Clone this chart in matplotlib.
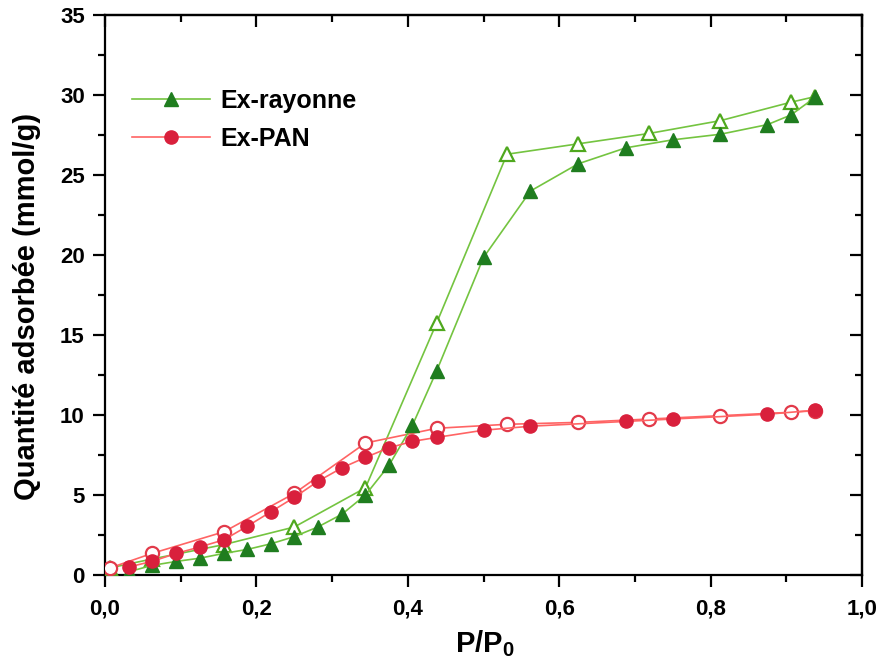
import numpy as np
import matplotlib
matplotlib.use("Agg")
import matplotlib.pyplot as plt
from matplotlib.ticker import MultipleLocator, FuncFormatter

plt.rcParams['font.family'] = ['Liberation Sans', 'DejaVu Sans']
plt.rcParams['mathtext.fontset'] = 'custom'
plt.rcParams['mathtext.bf'] = 'Liberation Sans:bold'
plt.rcParams['mathtext.rm'] = 'Liberation Sans:bold'

# Ex-rayonne, adsorption (pleins) et désorption (vides)
ray_ads_x = [0.031, 0.062, 0.094, 0.125, 0.157, 0.188, 0.219, 0.25, 0.281, 0.313, 0.344,
             0.375, 0.406, 0.438, 0.5, 0.562, 0.625, 0.688, 0.75, 0.813, 0.875, 0.906, 0.938]
ray_ads_y = [0.2, 0.6, 0.85, 1.05, 1.35, 1.6, 1.95, 2.4, 3.0, 3.8, 5.0,
             6.85, 9.35, 12.75, 19.85, 24.0, 25.7, 26.7, 27.2, 27.55, 28.15, 28.75, 29.85]
ray_des_x = [0.938, 0.906, 0.813, 0.719, 0.625, 0.531, 0.438, 0.344, 0.25, 0.157, 0.062, 0.007]
ray_des_y = [29.9, 29.55, 28.4, 27.6, 26.95, 26.3, 15.75, 5.45, 3.0, 1.9, 1.0, 0.45]

# Ex-PAN
pan_ads_x = [0.031, 0.062, 0.094, 0.125, 0.157, 0.188, 0.219, 0.25, 0.281, 0.313, 0.344,
             0.375, 0.406, 0.438, 0.5, 0.562, 0.688, 0.75, 0.875, 0.938]
pan_ads_y = [0.5, 0.85, 1.35, 1.75, 2.2, 3.05, 3.95, 4.85, 5.85, 6.7, 7.35,
             7.95, 8.35, 8.6, 9.05, 9.3, 9.6, 9.75, 10.05, 10.3]
pan_des_x = [0.938, 0.906, 0.813, 0.719, 0.625, 0.531, 0.438, 0.344, 0.25, 0.157, 0.062, 0.007]
pan_des_y = [10.27, 10.17, 9.96, 9.75, 9.54, 9.42, 9.17, 8.25, 5.1, 2.7, 1.35, 0.45]

green_line = '#74c440'
green_dark = '#1f7d1f'
red_line = '#ff6464'
red_fill = '#d9203c'

fig = plt.figure(figsize=(8.79, 6.68), dpi=100)
ax = fig.add_axes([0.1195, 0.1392, 0.8612, 0.8383])

ax.plot(ray_des_x, ray_des_y, color=green_line, lw=1.2, marker='^', ms=10.5,
        mfc='white', mec='#4fa81e', mew=1.6, zorder=3)
ax.plot(ray_ads_x, ray_ads_y, color=green_line, lw=1.2, marker='^', ms=10.5,
        mfc=green_dark, mec=green_dark, label='Ex-rayonne', zorder=4)
ax.plot(pan_des_x, pan_des_y, color=red_line, lw=1.2, marker='o', ms=9.5,
        mfc='white', mec='#e23a4a', mew=1.6, zorder=3)
ax.plot(pan_ads_x, pan_ads_y, color=red_line, lw=1.2, marker='o', ms=9.5,
        mfc=red_fill, mec=red_fill, label='Ex-PAN', zorder=4)

ax.set_xlim(0, 1.0)
ax.set_ylim(0, 35)
ax.xaxis.set_major_locator(MultipleLocator(0.2))
ax.xaxis.set_minor_locator(MultipleLocator(0.1))
ax.yaxis.set_major_locator(MultipleLocator(5))
ax.yaxis.set_minor_locator(MultipleLocator(2.5))
ax.xaxis.set_major_formatter(FuncFormatter(lambda v, p: f'{v:.1f}'.replace('.', ',')))
ax.yaxis.set_major_formatter(FuncFormatter(lambda v, p: f'{v:.0f}'))

for s in ax.spines.values():
    s.set_linewidth(1.6)
ax.tick_params(which='both', width=1.6, labelsize=16)
ax.tick_params(which='major', length=8.6)
ax.tick_params(which='minor', length=4.7)
ax.tick_params(axis='x', which='both', direction='out', top=False, pad=8)
ax.tick_params(axis='y', which='both', direction='out', right=False, pad=6)
for lab in ax.get_xticklabels() + ax.get_yticklabels():
    lab.set_fontweight('bold')

# ticks on top and right pointing inward
secx = ax.secondary_xaxis('top')
secx.xaxis.set_major_locator(MultipleLocator(0.2))
secx.xaxis.set_minor_locator(MultipleLocator(0.1))
secx.tick_params(which='both', direction='in', width=1.6, labeltop=False)
secx.tick_params(which='major', length=8.6)
secx.tick_params(which='minor', length=4.7)
secx.spines['top'].set_linewidth(1.6)
secy = ax.secondary_yaxis('right')
secy.yaxis.set_major_locator(MultipleLocator(5))
secy.yaxis.set_minor_locator(MultipleLocator(2.5))
secy.tick_params(which='both', direction='in', width=1.6, labelright=False)
secy.tick_params(which='major', length=8.6)
secy.tick_params(which='minor', length=4.7)
secy.spines['right'].set_linewidth(1.6)

ax.set_xlabel(r'P/P$_\mathbf{0}$', fontsize=21, fontweight='bold')
ax.xaxis.set_label_coords(0.502, -0.095)
ax.set_ylabel('Quantité adsorbée (mmol/g)', fontsize=21, fontweight='bold')
ax.yaxis.set_label_coords(-0.085, 0.479)

leg = ax.legend(loc='upper left', bbox_to_anchor=(0.0357, 0.868), frameon=False,
                prop={'size': 18, 'weight': 'bold'}, handlelength=3.1,
                handletextpad=0.45, labelspacing=0.55, borderpad=0, borderaxespad=0)

fig.savefig('out.png', dpi=100)
